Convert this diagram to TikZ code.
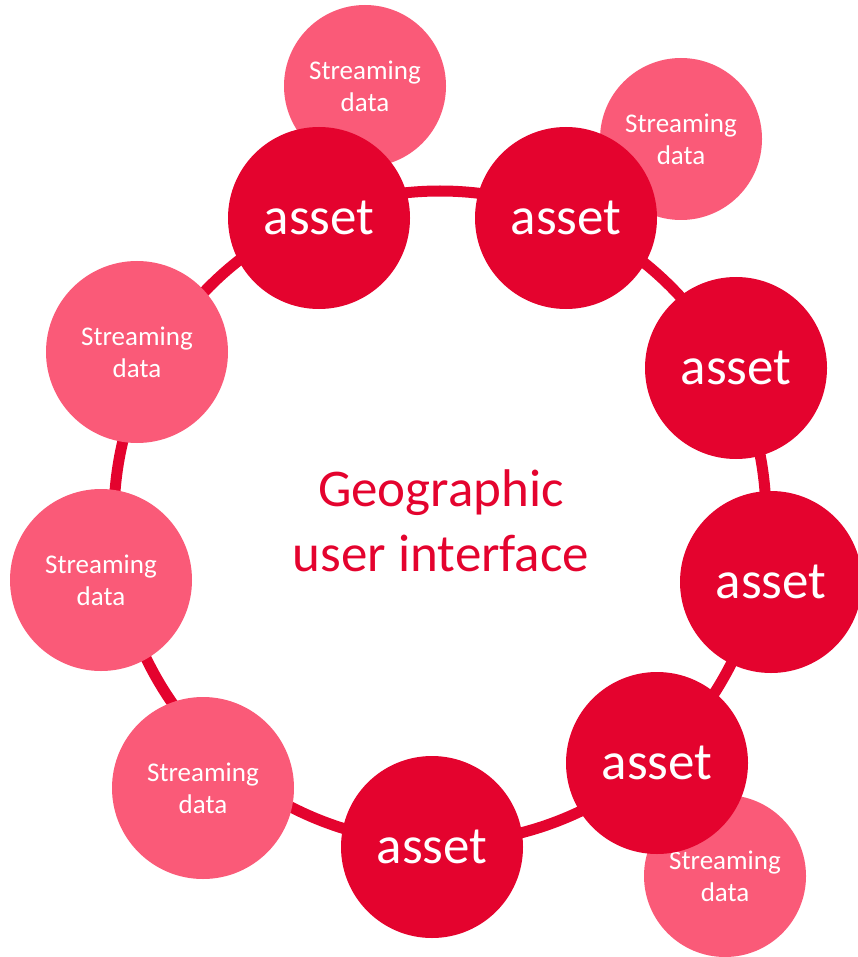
\documentclass[tikz,border=0pt]{standalone}
\usepackage{fontspec}
\setmainfont{Carlito}
\definecolor{assetred}{RGB}{228,3,46}
\definecolor{streampink}{RGB}{250,90,120}

\begin{document}
\begin{tikzpicture}[x=1pt,y=-1pt,
    ring/.style={draw=assetred, line width=11pt},
    asset/.style={circle, fill=assetred, minimum size=182pt, inner sep=0pt,
      text=white, font=\fontsize{53}{60}\selectfont},
    stream/.style={circle, fill=streampink, minimum size=182pt, inner sep=0pt,
      text=white, align=center, font=\fontsize{27}{32}\selectfont},
    smallstream/.style={stream, minimum size=162pt}]
  \useasboundingbox (0,0) rectangle (858,957);

  % ring through all circles
  \coordinate (hub) at (440,517);
  \draw[ring] (hub) circle[radius=326pt];

  % streaming data
  \node[smallstream] (stop)  at (365,86)  {Streaming\\data};
  \node[smallstream] (stopr) at (681,139) {Streaming\\data};
  \node[stream]      (sl1)   at (137,352) {Streaming\\data};
  \node[stream]      (sl2)   at (101,580) {Streaming\\data};
  \node[stream]      (sbl)   at (203,788) {Streaming\\data};
  \node[smallstream] (sbr)   at (725,876) {Streaming\\data};

  % assets
  \node[asset] (a1) at (319,218) {asset};
  \node[asset] (a2) at (566,218) {asset};
  \node[asset] (a3) at (736,368) {asset};
  \node[asset] (a4) at (771,582) {asset};
  \node[asset] (a5) at (657,763) {asset};
  \node[asset] (a6) at (432,847) {asset};

  \node[text=assetred, align=center, font=\fontsize{53}{65}\selectfont]
    (gui) at (441,521) {Geographic\\user interface};
\end{tikzpicture}
\end{document}
